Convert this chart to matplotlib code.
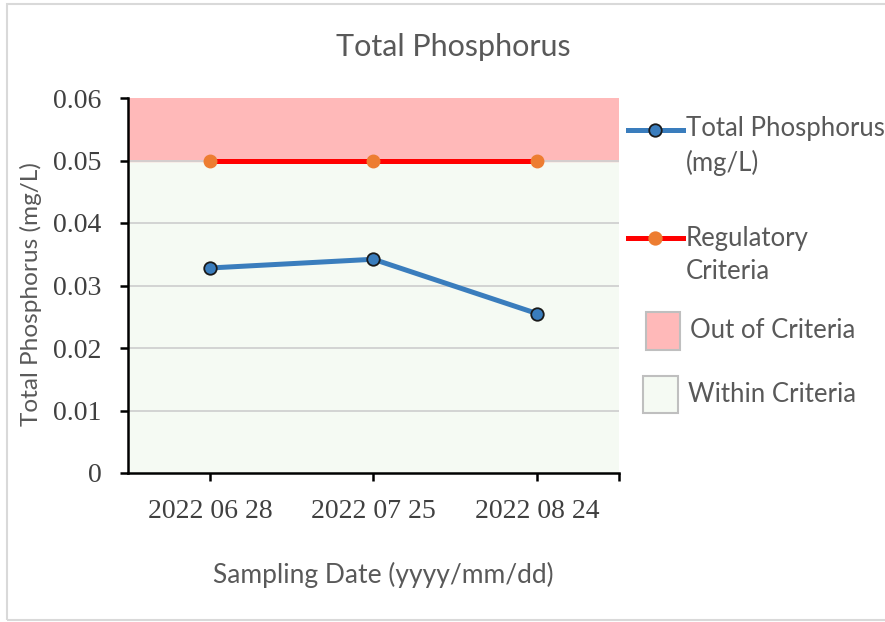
import matplotlib.pyplot as plt
from matplotlib.lines import Line2D
from matplotlib.patches import Rectangle

# data
dates = ['2022 06 28', '2022 07 25', '2022 08 24']
phosphorus = [0.0328, 0.0342, 0.0255]
criteria = [0.05, 0.05, 0.05]
y_max = 0.06

W, H = 885, 622
fig = plt.figure(figsize=(W / 100, H / 100), dpi=100)
ax = fig.add_axes([128 / W, 1 - 473 / H, 491 / W, 375 / H])

blue = '#3a7dbd'
red = '#ff0000'
orange = '#ed7d31'
pink = '#ffb9b9'
green = '#f5faf3'
grey_txt = '#595959'
sans = 'Lato'

x = list(range(len(dates)))

# criteria bands
ax.axhspan(0, criteria[0], color=green, zorder=0)
ax.axhspan(criteria[0], y_max, color=pink, zorder=0)

# gridlines
for v in [0.01, 0.02, 0.03, 0.04, 0.05]:
    ax.axhline(v, color='#d0d0d0', lw=1.3, zorder=1)

ax.plot(x, criteria, color=red, lw=3.6, marker='o', ms=9,
        mfc=orange, mec=orange, zorder=3)
ax.plot(x, phosphorus, color=blue, lw=3.6, marker='o', ms=9,
        mfc=blue, mec='#1a1a1a', mew=1.3, zorder=4)

ax.set_xlim(-0.5, len(dates) - 0.5)
ax.set_ylim(0, y_max)
ax.set_xticks(x)
ax.set_xticklabels(dates)
ax.set_xticks([len(dates) - 0.5], minor=True)
ax.set_yticks([0, 0.01, 0.02, 0.03, 0.04, 0.05, 0.06])
ax.set_yticklabels(['0', '0.01', '0.02', '0.03', '0.04', '0.05', '0.06'])

for s in ['top', 'right']:
    ax.spines[s].set_visible(False)
for s in ['left', 'bottom']:
    ax.spines[s].set_linewidth(1.8)
    ax.spines[s].set_color('black')
    ax.spines[s].set_zorder(5)

ax.tick_params(axis='both', which='both', direction='out', length=6, width=1.8,
               labelsize=20, labelcolor='#404040')
ax.tick_params(axis='x', pad=13)
ax.tick_params(axis='y', pad=13)
for lab in ax.get_xticklabels() + ax.get_yticklabels():
    lab.set_fontfamily('Liberation Serif')

fig.text(453 / W, 1 - 47 / H, 'Total Phosphorus', fontsize=22, color=grey_txt,
         family=sans, ha='center', va='center')
fig.text(383 / W, 1 - 575 / H, 'Sampling Date (yyyy/mm/dd)', fontsize=19, color=grey_txt,
         family=sans, ha='center', va='center')
fig.text(31 / W, 1 - 294 / H, 'Total Phosphorus (mg/L)', fontsize=17.6, color=grey_txt,
         family=sans, ha='center', va='center', rotation=90)


# legend drawn by hand so entries sit where the original has them
def px(xp, yp):
    return xp / W, 1 - yp / H


def line_entry(y, color, mfc, mec, label, text_y):
    x0, yy = px(628, y)
    x1, _ = px(683, y)
    xm, _ = px(655, y)
    fig.add_artist(Line2D([x0, x1], [yy, yy], color=color, lw=3.6, transform=fig.transFigure))
    fig.add_artist(Line2D([xm], [yy], marker='o', ms=9, mfc=mfc, mec=mec, mew=1.3,
                          transform=fig.transFigure))
    tx, ty = px(686, text_y)
    fig.text(tx, ty, label, fontsize=18.5, color=grey_txt, family=sans,
             ha='left', va='center', linespacing=1.4)


def box_entry(x0, y0, x1, y1, face, label, text_x):
    bx, by = px(x0, y1)
    fig.add_artist(Rectangle((bx, by), (x1 - x0) / W, (y1 - y0) / H, transform=fig.transFigure,
                             facecolor=face, edgecolor='#bfbfbf', lw=1.5))
    tx, ty = px(text_x, (y0 + y1) / 2)
    fig.text(tx, ty, label, fontsize=18.5, color=grey_txt, family=sans, ha='left', va='center')


line_entry(130, blue, blue, '#1a1a1a', 'Total Phosphorus\n(mg/L)', 146)
line_entry(238, red, orange, orange, 'Regulatory\nCriteria', 255)
box_entry(646, 312, 680, 350, pink, 'Out of Criteria', 690)
box_entry(643, 376, 678, 413, green, 'Within Criteria', 688)

# outer chart border (runs off the right edge in the original)
fig.add_artist(Rectangle((7 / W, 1 - 620 / H), 890 / W, 616 / H, transform=fig.transFigure,
                         fill=False, edgecolor='#d9d9d9', lw=1.5))

fig.savefig('out.png', dpi=100)
